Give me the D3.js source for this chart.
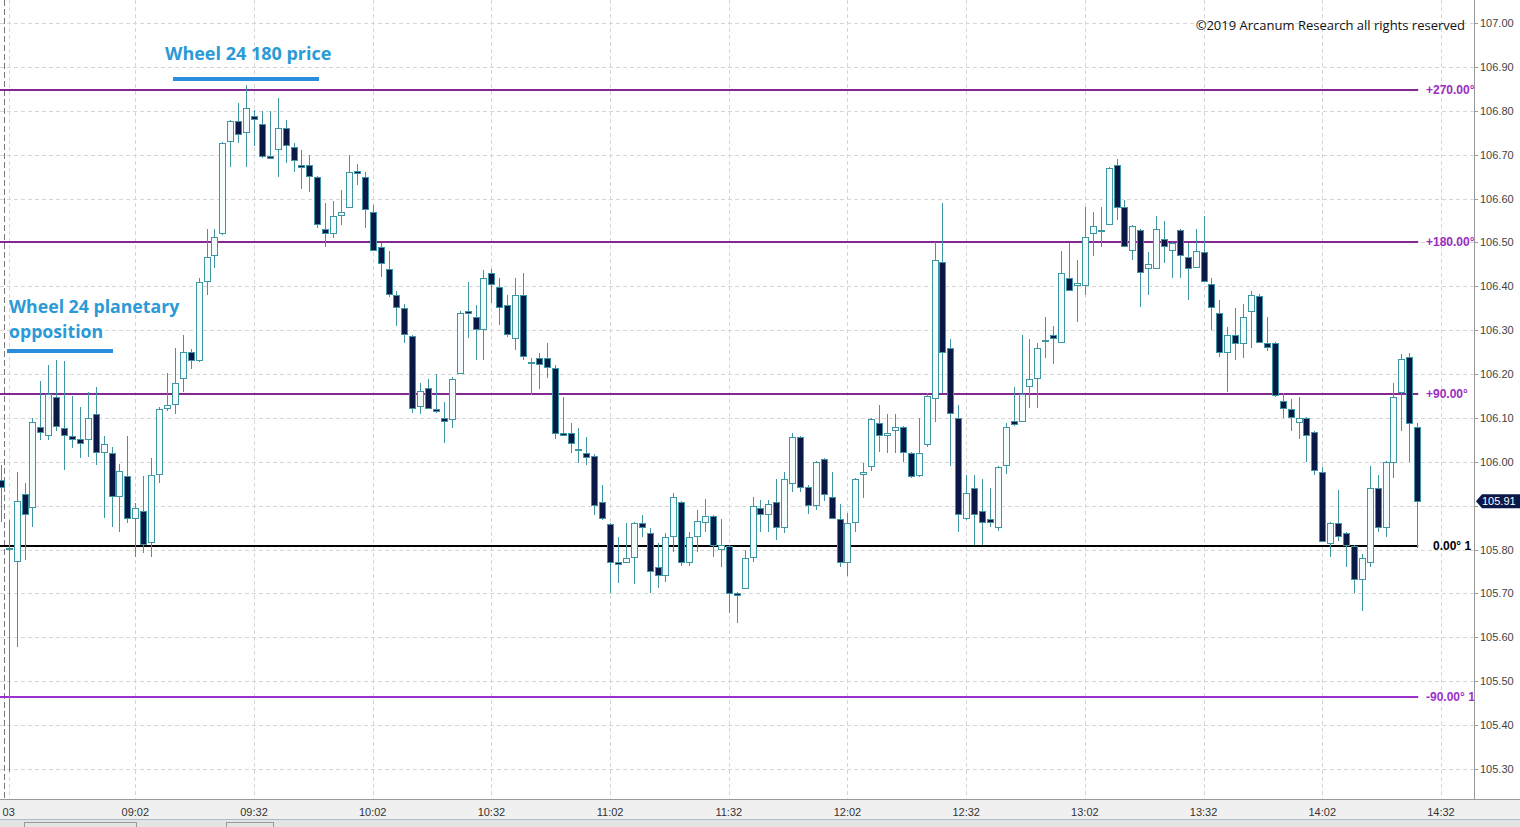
<!DOCTYPE html>
<html lang="en">
<head>
<meta charset="utf-8">
<title>USDJPY 2 min - Wheel 24</title>
<script src="https://cdn.jsdelivr.net/npm/d3@7/dist/d3.min.js"></script>
<style>
    body { margin: 0; background: #fff; }
    text { font-family: "Liberation Sans", Arial, sans-serif; }
</style>
</head>
<body>
<script>
// 2-minute candles, index 0 = 08:28
var opens = [105.959,105.804,105.774,105.927,105.897,106.079,106.061,106.148,106.077,106.059,
    106.052,106.052,106.109,106.022,106.020,105.922,105.968,105.872,105.888,105.817,
    105.972,106.123,106.132,106.191,106.250,106.232,106.412,106.471,106.521,106.731,
    106.777,106.752,106.788,106.770,106.697,106.713,106.761,106.717,106.676,106.676,
    106.649,106.531,106.521,106.562,106.581,106.663,106.649,106.569,106.490,106.439,
    106.380,106.350,106.287,106.127,106.168,106.120,106.100,106.098,106.202,106.344,
    106.330,106.303,106.430,106.398,106.357,106.282,106.380,106.227,106.237,106.237,
    106.214,106.066,106.066,106.029,106.020,106.013,105.908,105.858,105.772,105.772,
    105.783,105.861,105.838,105.760,105.742,105.831,105.908,105.772,105.831,105.863,
    105.876,105.801,105.808,105.701,105.712,105.783,105.895,105.881,105.908,105.851,
    105.952,106.056,105.943,105.902,106.006,105.920,105.870,105.772,105.863,105.972,
    105.990,106.088,106.061,106.072,106.079,106.020,105.970,106.041,106.145,106.455,
    106.259,106.100,105.872,105.940,105.888,105.870,105.851,105.993,106.093,106.093,
    106.173,106.191,106.278,106.289,106.273,106.419,106.403,106.403,106.521,106.528,
    106.542,106.676,106.581,106.483,106.528,106.442,106.442,106.508,106.483,106.528,
    106.467,106.444,106.478,106.405,106.339,106.250,106.289,106.271,106.344,106.378,
    106.271,106.271,106.139,106.120,106.091,106.100,106.068,105.977,105.815,105.861,
    105.838,105.808,105.733,105.772,105.940,105.851,106.000,106.159,106.239,106.079];

var highs = [105.993,105.867,105.977,105.952,106.100,106.184,106.221,106.232,106.230,106.150,
    106.125,106.159,106.170,106.059,106.034,105.995,106.059,105.906,105.968,106.009,
    106.125,106.202,106.259,106.289,106.257,106.419,106.531,106.531,106.729,106.779,
    106.818,106.859,106.802,106.799,106.799,106.829,106.779,106.727,106.711,106.699,
    106.651,106.590,106.594,106.619,106.699,106.679,106.660,106.585,106.499,106.480,
    106.389,106.360,106.289,106.180,106.189,106.200,106.136,106.193,106.344,106.410,
    106.357,106.437,106.439,106.419,106.380,106.419,106.430,106.237,106.248,106.271,
    106.221,106.148,106.088,106.077,106.056,106.018,105.947,105.861,105.829,105.861,
    105.863,105.879,105.849,105.815,105.838,105.929,105.911,105.840,105.890,105.915,
    105.879,105.870,105.810,105.703,105.799,105.920,105.913,105.913,105.961,105.977,
    106.066,106.059,105.947,106.002,106.009,105.977,105.904,105.883,105.963,105.997,
    106.100,106.129,106.109,106.109,106.082,106.022,106.100,106.157,106.501,106.590,
    106.280,106.129,105.970,105.970,105.961,105.940,105.990,106.088,106.170,106.289,
    106.280,106.271,106.330,106.309,106.480,106.499,106.460,106.581,106.569,106.581,
    106.672,106.690,106.597,106.540,106.531,106.478,106.560,106.549,106.501,106.531,
    106.499,106.531,106.560,106.419,106.369,106.307,106.350,106.360,106.389,106.382,
    106.330,106.274,106.157,106.143,106.148,106.102,106.070,105.988,105.863,105.936,
    105.840,105.810,105.790,105.990,105.970,106.002,106.180,106.246,106.248,106.088];

var lows = [105.863,105.293,105.578,105.776,105.851,106.050,106.050,106.070,105.981,106.031,
    106.009,106.011,105.993,105.872,105.851,105.840,105.861,105.783,105.792,105.783,
    105.952,106.116,106.109,106.159,106.211,106.227,106.380,106.442,106.517,106.672,
    106.727,106.672,106.720,106.692,106.690,106.649,106.681,106.660,106.622,106.615,
    106.533,106.490,106.510,106.540,106.578,106.631,106.533,106.480,106.421,106.376,
    106.309,106.271,106.111,106.109,106.120,106.111,106.043,106.077,106.200,106.282,
    106.232,106.232,106.362,106.312,106.284,106.255,106.232,106.152,106.166,106.191,
    106.052,106.060,106.020,105.997,105.993,105.879,105.867,105.701,105.724,105.770,
    105.722,105.829,105.701,105.712,105.726,105.794,105.763,105.763,105.794,105.840,
    105.783,105.760,105.655,105.633,105.710,105.772,105.840,105.840,105.822,105.838,
    105.931,105.931,105.881,105.890,105.911,105.870,105.760,105.740,105.840,105.918,
    105.979,106.022,106.020,106.020,106.000,105.963,105.965,106.034,106.091,106.157,
    105.990,105.840,105.867,105.810,105.810,105.851,105.842,105.972,106.082,106.091,
    106.123,106.123,106.237,106.223,106.272,106.390,106.319,106.380,106.469,106.490,
    106.540,106.551,106.490,106.460,106.353,106.380,106.440,106.453,106.419,106.419,
    106.369,106.442,106.410,106.300,106.239,106.159,106.232,106.237,106.259,106.271,
    106.253,106.148,106.100,106.070,106.052,106.000,105.970,105.817,105.783,105.820,
    105.760,105.701,105.660,105.760,105.840,105.829,105.963,106.070,106.000,105.804];

var closes = [105.943,105.804,105.911,105.881,106.091,106.068,106.154,106.082,106.061,106.052,
    106.043,106.100,106.022,106.041,105.922,105.979,105.872,105.895,105.813,105.970,
    106.120,106.129,106.180,106.250,106.232,106.410,106.467,106.512,106.727,106.777,
    106.747,106.806,106.781,106.697,106.692,106.761,106.722,106.688,106.672,106.651,
    106.542,106.521,106.560,106.569,106.660,106.658,106.576,106.483,106.453,106.382,
    106.353,106.291,106.123,106.161,106.123,106.116,106.093,106.189,106.339,106.339,
    106.303,106.419,106.405,106.353,106.291,106.380,106.241,106.228,106.223,106.216,
    106.066,106.061,106.043,106.028,106.011,105.902,105.872,105.772,105.767,105.781,
    105.861,105.851,105.751,105.742,105.829,105.920,105.772,105.829,105.865,105.876,
    105.810,105.810,105.701,105.696,105.781,105.899,105.881,105.904,105.851,105.961,
    106.056,105.943,105.902,106.000,105.927,105.872,105.772,105.861,105.961,105.977,
    106.098,106.061,106.066,106.079,106.022,105.968,106.020,106.150,106.460,106.250,
    106.111,105.881,105.929,105.881,105.863,105.863,105.988,106.079,106.086,106.154,
    106.189,106.259,106.277,106.282,106.430,106.392,106.407,106.512,106.537,106.529,
    106.670,106.581,106.492,106.537,106.433,106.451,106.531,106.492,106.499,106.471,
    106.442,106.480,106.412,106.353,106.250,106.289,106.271,106.330,106.380,106.273,
    106.262,106.152,106.123,106.102,106.100,106.061,105.981,105.820,105.861,105.831,
    105.810,105.733,105.781,105.940,105.851,106.000,106.148,106.234,106.088,105.910];

// time axis: candle index of each label
var timeTickIdx = [1, 17, 32, 47, 62, 77, 92, 107, 122, 137, 152, 167, 182];
var timeTickLabels = ["03", "09:02", "09:32", "10:02", "10:32", "11:02", "11:32",
    "12:02", "12:32", "13:02", "13:32", "14:02", "14:32"];

var priceTicks = [105.30, 105.40, 105.50, 105.60, 105.70, 105.80, 105.90, 106.00, 106.10,
    106.20, 106.30, 106.40, 106.50, 106.60, 106.70, 106.80, 106.90, 107.00];

// Wheel 24 angle levels
var levelNames = ["+270.00°", "+180.00°", "+90.00°", "0.00° 1", "-90.00° 1"];
var levelPrices = [106.847, 106.501, 106.154, 105.808, 105.464];
var levelColors = ["#82288f", "#82288f", "#82288f", "#000000", "#9b30cc"];
var levelTextColors = ["#9a2cc0", "#9a2cc0", "#9a2cc0", "#000000", "#9b30cc"];

var lastPrice = 105.91;

var w = 1520, h = 827;
var plotRight = 1474, plotBottom = 799;

var x = d3.scaleLinear().domain([0, 179]).range([0.8, 1417.2]);
var y = d3.scaleLinear().domain([105.30, 107.00]).range([769, 23]);

var svg = d3.select("body").append("svg")
    .attr("width", w).attr("height", h);

svg.append("rect").attr("width", w).attr("height", h).attr("fill", "#fff");

svg.append("clipPath").attr("id", "plot")
    .append("rect").attr("x", 0).attr("y", 0)
    .attr("width", plotRight).attr("height", plotBottom);

var plot = svg.append("g").attr("clip-path", "url(#plot)");

// grid
plot.selectAll("line.hgrid")
    .data(priceTicks)
    .enter().append("line")
    .attr("class", "hgrid")
    .attr("x1", 0).attr("x2", plotRight)
    .attr("y1", d => Math.round(y(d)) + 0.5).attr("y2", d => Math.round(y(d)) + 0.5)
    .attr("stroke", "#d6d6d6").attr("stroke-dasharray", "4,3");

plot.selectAll("line.vgrid")
    .data(timeTickIdx)
    .enter().append("line")
    .attr("class", "vgrid")
    .attr("x1", d => Math.round(x(d)) + 0.5).attr("x2", d => Math.round(x(d)) + 0.5)
    .attr("y1", 0).attr("y2", plotBottom)
    .attr("stroke", "#d6d6d6").attr("stroke-dasharray", "4,3");

// day separator
plot.append("line")
    .attr("x1", 4.5).attr("x2", 4.5).attr("y1", 0).attr("y2", plotBottom)
    .attr("stroke", "#7a7a7a").attr("stroke-dasharray", "6,3");

// level lines
var lastX = x(179) + 1;
plot.selectAll("line.level")
    .data(levelPrices)
    .enter().append("line")
    .attr("class", "level")
    .attr("x1", 0).attr("x2", lastX)
    .attr("y1", d => Math.round(y(d))).attr("y2", d => Math.round(y(d)))
    .attr("stroke", (d, i) => levelColors[i])
    .attr("stroke-width", 2);

plot.selectAll("text.level")
    .data(levelPrices)
    .enter().append("text")
    .attr("class", "level")
    .attr("x", (d, i) => i == 3 ? 1433 : 1426)
    .attr("y", d => y(d) + 4)
    .attr("fill", (d, i) => levelTextColors[i])
    .style("font-size", "12px")
    .style("font-weight", "bold")
    .text((d, i) => levelNames[i]);

// candles
var candles = d3.range(opens.length).map(function (i) {
    return { i: i, o: opens[i], h: highs[i], l: lows[i], c: closes[i] };
});

var cg = plot.append("g").attr("shape-rendering", "crispEdges");

cg.selectAll("line.wick")
    .data(candles)
    .enter().append("line")
    .attr("class", "wick")
    .attr("x1", d => Math.round(x(d.i)) + 0.5).attr("x2", d => Math.round(x(d.i)) + 0.5)
    .attr("y1", d => y(d.h)).attr("y2", d => y(d.l))
    .attr("stroke", "#3f96a2");

cg.selectAll("rect.body")
    .data(candles)
    .enter().append("rect")
    .attr("class", "body")
    .attr("x", d => Math.round(x(d.i)) - 2.5)
    .attr("width", 6)
    .attr("y", d => Math.round(y(Math.max(d.o, d.c))) + 0.5)
    .attr("height", d => Math.max(1, Math.round(Math.abs(y(d.o) - y(d.c)))))
    .attr("fill", d => d.c >= d.o ? "#f3fdfd" : "#0a1848")
    .attr("stroke", "#3f96a2");

// annotations
var blue = "#2b9ad6";
svg.append("text")
    .attr("x", 165).attr("y", 60)
    .attr("fill", blue)
    .style("font-family", "'Open Sans', sans-serif")
    .style("font-size", "18px").style("font-weight", "bold")
    .text("Wheel 24 180 price");
svg.append("rect").attr("x", 173).attr("y", 77).attr("width", 146).attr("height", 4).attr("fill", "#2b8edc");

svg.append("text")
    .attr("x", 9).attr("y", 313)
    .attr("fill", blue)
    .style("font-family", "'Open Sans', sans-serif")
    .style("font-size", "17.7px").style("font-weight", "bold")
    .text("Wheel 24 planetary");
svg.append("text")
    .attr("x", 9).attr("y", 338)
    .attr("fill", blue)
    .style("font-family", "'Open Sans', sans-serif")
    .style("font-size", "17.7px").style("font-weight", "bold")
    .text("opposition");
svg.append("rect").attr("x", 7).attr("y", 349).attr("width", 106).attr("height", 4).attr("fill", "#2b8edc");

svg.append("text")
    .attr("x", 1465).attr("y", 30)
    .attr("text-anchor", "end")
    .attr("fill", "#111")
    .style("font-family", "'Open Sans', sans-serif")
    .style("font-size", "13px")
    .text("©2019 Arcanum Research all rights reserved");

// right price axis
svg.append("line")
    .attr("x1", plotRight + 0.5).attr("x2", plotRight + 0.5)
    .attr("y1", 0).attr("y2", plotBottom)
    .attr("stroke", "#9a9a9a");

var ly = y(lastPrice);
// the last price marker hides the tick label it sits on
var shownTicks = priceTicks.filter(d => Math.abs(y(d) - ly) > 9);

var yAxis = svg.append("g");
yAxis.selectAll("line")
    .data(priceTicks)
    .enter().append("line")
    .attr("x1", plotRight).attr("x2", plotRight + 4)
    .attr("y1", d => Math.round(y(d)) + 0.5).attr("y2", d => Math.round(y(d)) + 0.5)
    .attr("stroke", "#9a9a9a");
yAxis.selectAll("text")
    .data(shownTicks)
    .enter().append("text")
    .attr("x", plotRight + 6)
    .attr("y", d => y(d) + 4)
    .attr("fill", "#444")
    .style("font-size", "11px")
    .text(d => d.toFixed(2));

// last price marker
svg.append("path")
    .attr("d", "M" + (plotRight + 2) + "," + ly + " L" + (plotRight + 8) + "," + (ly - 7) +
        " L" + w + "," + (ly - 7) + " L" + w + "," + (ly + 7) + " L" + (plotRight + 8) + "," + (ly + 7) + " Z")
    .attr("fill", "#0a1848");
svg.append("text")
    .attr("x", plotRight + 8).attr("y", ly + 4)
    .attr("fill", "#fff")
    .style("font-size", "11px")
    .text(lastPrice.toFixed(2));

// bottom time axis
svg.append("rect").attr("x", 0).attr("y", plotBottom).attr("width", w).attr("height", h - plotBottom)
    .attr("fill", "#f0f0f0");
svg.append("line")
    .attr("x1", 0).attr("x2", w).attr("y1", plotBottom + 0.5).attr("y2", plotBottom + 0.5)
    .attr("stroke", "#9a9a9a");
svg.append("line")
    .attr("x1", 0).attr("x2", w).attr("y1", 819.5).attr("y2", 819.5)
    .attr("stroke", "#a9bccd");
svg.append("rect").attr("x", 0).attr("y", 820).attr("width", w).attr("height", 7).attr("fill", "#e4e4e4");
svg.append("rect").attr("x", 24.5).attr("y", 822.5).attr("width", 112).attr("height", 6)
    .attr("fill", "none").attr("stroke", "#9a9a9a");
svg.append("rect").attr("x", 226.5).attr("y", 822.5).attr("width", 47).attr("height", 6)
    .attr("fill", "none").attr("stroke", "#9a9a9a");

svg.selectAll("text.time")
    .data(timeTickIdx)
    .enter().append("text")
    .attr("class", "time")
    .attr("x", d => x(d))
    .attr("y", 816)
    .attr("text-anchor", "middle")
    .attr("fill", "#333")
    .style("font-size", "11px")
    .text((d, i) => timeTickLabels[i]);
</script>
</body>
</html>
